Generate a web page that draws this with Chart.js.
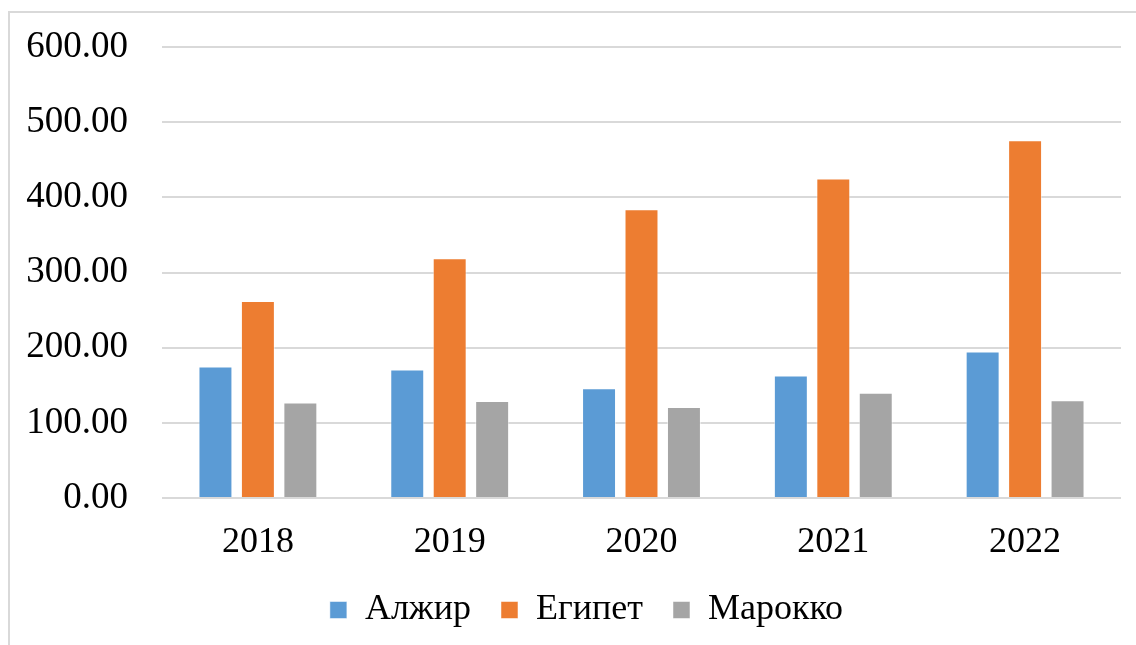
<!DOCTYPE html>
<html>
<head>
<meta charset="utf-8">
<script src="https://cdn.jsdelivr.net/npm/chart.js@4/dist/chart.umd.min.js"></script>
<style>
  html, body { margin: 0; padding: 0; background: #fff; }
  body { width: 1136px; height: 645px; position: relative; overflow: hidden; }
  #frame {
    position: absolute; left: 8px; top: 11px; right: 0; bottom: 0;
    border-top: 2px solid #d9d9d9; border-left: 2px solid #d9d9d9;
  }
  #wrap { position: absolute; left: 0; top: 0; width: 1126px; height: 632px; }
</style>
</head>
<body>
<div id="frame"><div id="wrap"><canvas id="chart"></canvas></div></div>
<script>
  var years = ['2018', '2019', '2020', '2021', '2022'];
  var algeria = [175, 171, 146, 163, 195];
  var egypt = [262, 319, 384, 425, 476];
  var morocco = [127, 129, 121, 140, 130];
  var seriesNames = ['Алжир', 'Египет', 'Марокко'];
  var palette = ['#5b9bd5', '#ed7d31', '#a5a5a5'];

  var family = "'Liberation Serif', 'Times New Roman', serif";

  function makeDataset(label, values, color) {
    return {
      label: label,
      data: values,
      backgroundColor: color,
      borderColor: 'rgba(255,255,255,0.5)',
      borderWidth: 1,
      categoryPercentage: 0.664,
      barPercentage: 0.8
    };
  }

  // nudge the legend a bit to the right, like the original
  var legendShift = {
    id: 'legendShift',
    afterLayout: function(chart) {
      if (chart.legend) {
        chart.legend.left += 21;
        chart.legend.right += 21;
      }
    }
  };

  var ctx = document.getElementById('chart').getContext('2d');
  new Chart(ctx, {
    type: 'bar',
    data: {
      labels: years,
      datasets: [
        makeDataset(seriesNames[0], algeria, palette[0]),
        makeDataset(seriesNames[1], egypt, palette[1]),
        makeDataset(seriesNames[2], morocco, palette[2])
      ]
    },
    plugins: [legendShift],
    options: {
      responsive: true,
      maintainAspectRatio: false,
      animation: false,
      layout: { padding: { top: 34, right: 15, bottom: 7, left: 0 } },
      plugins: {
        tooltip: { enabled: false },
        legend: {
          position: 'bottom',
          labels: {
            font: { family: family, size: 36 },
            color: '#000',
            boxWidth: 17,
            boxHeight: 17,
            padding: 30
          }
        }
      },
      scales: {
        x: {
          grid: { display: false },
          border: { display: false },
          ticks: { font: { family: family, size: 36 }, color: '#000', padding: 15 },
          afterFit: function(scale) { scale.height = 64; }
        },
        y: {
          min: 0,
          max: 600,
          ticks: {
            stepSize: 100,
            font: { family: family, size: 37 },
            color: '#000',
            padding: 34,
            callback: function(v) { return v.toFixed(2); }
          },
          grid: { color: '#d9d9d9', lineWidth: 2, drawTicks: false },
          border: { display: false },
          afterFit: function(scale) {
            scale.width = 152;
            scale.paddingTop = 0;
            scale.paddingBottom = 0;
          }
        }
      }
    }
  });
</script>
</body>
</html>
